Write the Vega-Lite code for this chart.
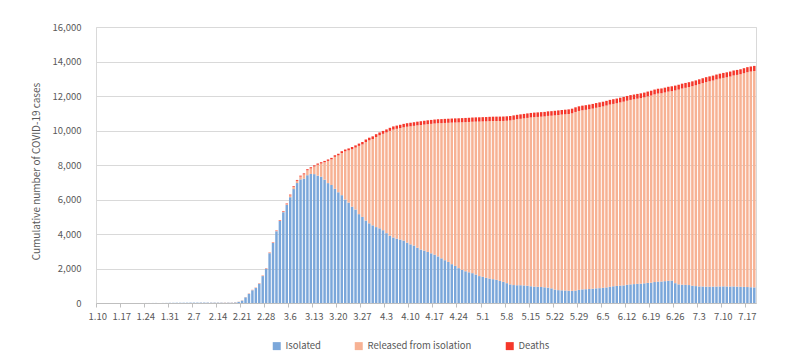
{
"$schema": "https://vega.github.io/schema/vega-lite/v6.json",
"width": 660, "height": 276,
"autosize": {"type": "none"},
"padding": {"left": 96, "top": 27, "right": 32, "bottom": 60},
"background": "white",
"config": {"font": "Noto Sans CJK KR", "view": {"stroke": "#D9D9D9"}},
"datasets": {"ranks": [{"series": "Isolated", "rank": 1}, {"series": "Released from isolation", "rank": 2}, {"series": "Deaths", "rank": 3}]},
"data": {"values": [
{"d":"1.10","Isolated":0,"Released from isolation":0,"Deaths":0},
{"d":"1.11","Isolated":0,"Released from isolation":0,"Deaths":0},
{"d":"1.12","Isolated":0,"Released from isolation":0,"Deaths":0},
{"d":"1.13","Isolated":0,"Released from isolation":0,"Deaths":0},
{"d":"1.14","Isolated":0,"Released from isolation":0,"Deaths":0},
{"d":"1.15","Isolated":0,"Released from isolation":0,"Deaths":0},
{"d":"1.16","Isolated":0,"Released from isolation":0,"Deaths":0},
{"d":"1.17","Isolated":0,"Released from isolation":0,"Deaths":0},
{"d":"1.18","Isolated":0,"Released from isolation":0,"Deaths":0},
{"d":"1.19","Isolated":0,"Released from isolation":0,"Deaths":0},
{"d":"1.20","Isolated":1,"Released from isolation":0,"Deaths":0},
{"d":"1.21","Isolated":1,"Released from isolation":0,"Deaths":0},
{"d":"1.22","Isolated":1,"Released from isolation":0,"Deaths":0},
{"d":"1.23","Isolated":1,"Released from isolation":0,"Deaths":0},
{"d":"1.24","Isolated":2,"Released from isolation":0,"Deaths":0},
{"d":"1.25","Isolated":2,"Released from isolation":0,"Deaths":0},
{"d":"1.26","Isolated":3,"Released from isolation":0,"Deaths":0},
{"d":"1.27","Isolated":4,"Released from isolation":0,"Deaths":0},
{"d":"1.28","Isolated":4,"Released from isolation":0,"Deaths":0},
{"d":"1.29","Isolated":4,"Released from isolation":0,"Deaths":0},
{"d":"1.30","Isolated":6,"Released from isolation":0,"Deaths":0},
{"d":"1.31","Isolated":11,"Released from isolation":0,"Deaths":0},
{"d":"2.1","Isolated":12,"Released from isolation":0,"Deaths":0},
{"d":"2.2","Isolated":15,"Released from isolation":0,"Deaths":0},
{"d":"2.3","Isolated":15,"Released from isolation":0,"Deaths":0},
{"d":"2.4","Isolated":16,"Released from isolation":0,"Deaths":0},
{"d":"2.5","Isolated":18,"Released from isolation":1,"Deaths":0},
{"d":"2.6","Isolated":21,"Released from isolation":2,"Deaths":0},
{"d":"2.7","Isolated":22,"Released from isolation":2,"Deaths":0},
{"d":"2.8","Isolated":22,"Released from isolation":2,"Deaths":0},
{"d":"2.9","Isolated":24,"Released from isolation":3,"Deaths":0},
{"d":"2.10","Isolated":24,"Released from isolation":3,"Deaths":0},
{"d":"2.11","Isolated":24,"Released from isolation":4,"Deaths":0},
{"d":"2.12","Isolated":21,"Released from isolation":7,"Deaths":0},
{"d":"2.13","Isolated":21,"Released from isolation":7,"Deaths":0},
{"d":"2.14","Isolated":21,"Released from isolation":7,"Deaths":0},
{"d":"2.15","Isolated":19,"Released from isolation":9,"Deaths":0},
{"d":"2.16","Isolated":19,"Released from isolation":10,"Deaths":0},
{"d":"2.17","Isolated":20,"Released from isolation":10,"Deaths":0},
{"d":"2.18","Isolated":19,"Released from isolation":12,"Deaths":0},
{"d":"2.19","Isolated":30,"Released from isolation":16,"Deaths":0},
{"d":"2.20","Isolated":65,"Released from isolation":16,"Deaths":1},
{"d":"2.21","Isolated":139,"Released from isolation":16,"Deaths":1},
{"d":"2.22","Isolated":328,"Released from isolation":16,"Deaths":2},
{"d":"2.23","Isolated":533,"Released from isolation":18,"Deaths":5},
{"d":"2.24","Isolated":738,"Released from isolation":18,"Deaths":7},
{"d":"2.25","Isolated":867,"Released from isolation":18,"Deaths":8},
{"d":"2.26","Isolated":1113,"Released from isolation":22,"Deaths":11},
{"d":"2.27","Isolated":1561,"Released from isolation":22,"Deaths":12},
{"d":"2.28","Isolated":1987,"Released from isolation":22,"Deaths":13},
{"d":"2.29","Isolated":2888,"Released from isolation":27,"Deaths":16},
{"d":"3.1","Isolated":3479,"Released from isolation":30,"Deaths":17},
{"d":"3.2","Isolated":4160,"Released from isolation":30,"Deaths":22},
{"d":"3.3","Isolated":4754,"Released from isolation":30,"Deaths":28},
{"d":"3.4","Isolated":5262,"Released from isolation":34,"Deaths":32},
{"d":"3.5","Isolated":5690,"Released from isolation":41,"Deaths":35},
{"d":"3.6","Isolated":6134,"Released from isolation":108,"Deaths":42},
{"d":"3.7","Isolated":6605,"Released from isolation":118,"Deaths":44},
{"d":"3.8","Isolated":6954,"Released from isolation":130,"Deaths":50},
{"d":"3.9","Isolated":7165,"Released from isolation":166,"Deaths":51},
{"d":"3.10","Isolated":7212,"Released from isolation":247,"Deaths":54},
{"d":"3.11","Isolated":7407,"Released from isolation":288,"Deaths":60},
{"d":"3.12","Isolated":7480,"Released from isolation":323,"Deaths":66},
{"d":"3.13","Isolated":7470,"Released from isolation":442,"Deaths":67},
{"d":"3.14","Isolated":7380,"Released from isolation":634,"Deaths":72},
{"d":"3.15","Isolated":7320,"Released from isolation":767,"Deaths":75},
{"d":"3.16","Isolated":7150,"Released from isolation":1011,"Deaths":75},
{"d":"3.17","Isolated":6950,"Released from isolation":1289,"Deaths":81},
{"d":"3.18","Isolated":6840,"Released from isolation":1489,"Deaths":84},
{"d":"3.19","Isolated":6620,"Released from isolation":1854,"Deaths":91},
{"d":"3.20","Isolated":6420,"Released from isolation":2138,"Deaths":94},
{"d":"3.21","Isolated":6250,"Released from isolation":2447,"Deaths":102},
{"d":"3.22","Isolated":6000,"Released from isolation":2793,"Deaths":104},
{"d":"3.23","Isolated":5820,"Released from isolation":3030,"Deaths":111},
{"d":"3.24","Isolated":5580,"Released from isolation":3337,"Deaths":120},
{"d":"3.25","Isolated":5420,"Released from isolation":3591,"Deaths":126},
{"d":"3.26","Isolated":5150,"Released from isolation":3960,"Deaths":131},
{"d":"3.27","Isolated":4990,"Released from isolation":4203,"Deaths":139},
{"d":"3.28","Isolated":4780,"Released from isolation":4554,"Deaths":144},
{"d":"3.29","Isolated":4620,"Released from isolation":4811,"Deaths":152},
{"d":"3.30","Isolated":4500,"Released from isolation":5003,"Deaths":158},
{"d":"3.31","Isolated":4400,"Released from isolation":5224,"Deaths":162},
{"d":"4.1","Isolated":4330,"Released from isolation":5392,"Deaths":165},
{"d":"4.2","Isolated":4220,"Released from isolation":5587,"Deaths":169},
{"d":"4.3","Isolated":4050,"Released from isolation":5838,"Deaths":174},
{"d":"4.4","Isolated":3900,"Released from isolation":6079,"Deaths":177},
{"d":"4.5","Isolated":3800,"Released from isolation":6254,"Deaths":183},
{"d":"4.6","Isolated":3730,"Released from isolation":6368,"Deaths":186},
{"d":"4.7","Isolated":3680,"Released from isolation":6459,"Deaths":192},
{"d":"4.8","Isolated":3620,"Released from isolation":6564,"Deaths":200},
{"d":"4.9","Isolated":3500,"Released from isolation":6719,"Deaths":204},
{"d":"4.10","Isolated":3400,"Released from isolation":6842,"Deaths":208},
{"d":"4.11","Isolated":3330,"Released from isolation":6939,"Deaths":211},
{"d":"4.12","Isolated":3200,"Released from isolation":7098,"Deaths":214},
{"d":"4.13","Isolated":3100,"Released from isolation":7220,"Deaths":217},
{"d":"4.14","Isolated":3040,"Released from isolation":7302,"Deaths":222},
{"d":"4.15","Isolated":2960,"Released from isolation":7406,"Deaths":225},
{"d":"4.16","Isolated":2880,"Released from isolation":7504,"Deaths":229},
{"d":"4.17","Isolated":2800,"Released from isolation":7605,"Deaths":230},
{"d":"4.18","Isolated":2700,"Released from isolation":7721,"Deaths":232},
{"d":"4.19","Isolated":2590,"Released from isolation":7837,"Deaths":234},
{"d":"4.20","Isolated":2480,"Released from isolation":7958,"Deaths":236},
{"d":"4.21","Isolated":2380,"Released from isolation":8066,"Deaths":237},
{"d":"4.22","Isolated":2250,"Released from isolation":8206,"Deaths":238},
{"d":"4.23","Isolated":2150,"Released from isolation":8312,"Deaths":240},
{"d":"4.24","Isolated":2020,"Released from isolation":8448,"Deaths":240},
{"d":"4.25","Isolated":1920,"Released from isolation":8556,"Deaths":242},
{"d":"4.26","Isolated":1840,"Released from isolation":8645,"Deaths":243},
{"d":"4.27","Isolated":1780,"Released from isolation":8715,"Deaths":243},
{"d":"4.28","Isolated":1730,"Released from isolation":8778,"Deaths":244},
{"d":"4.29","Isolated":1650,"Released from isolation":8865,"Deaths":246},
{"d":"4.30","Isolated":1560,"Released from isolation":8958,"Deaths":247},
{"d":"5.1","Isolated":1520,"Released from isolation":9006,"Deaths":248},
{"d":"5.2","Isolated":1460,"Released from isolation":9070,"Deaths":250},
{"d":"5.3","Isolated":1420,"Released from isolation":9123,"Deaths":250},
{"d":"5.4","Isolated":1380,"Released from isolation":9169,"Deaths":252},
{"d":"5.5","Isolated":1340,"Released from isolation":9210,"Deaths":254},
{"d":"5.6","Isolated":1280,"Released from isolation":9271,"Deaths":255},
{"d":"5.7","Isolated":1230,"Released from isolation":9324,"Deaths":256},
{"d":"5.8","Isolated":1150,"Released from isolation":9416,"Deaths":256},
{"d":"5.9","Isolated":1080,"Released from isolation":9504,"Deaths":256},
{"d":"5.10","Isolated":1040,"Released from isolation":9578,"Deaths":256},
{"d":"5.11","Isolated":1030,"Released from isolation":9623,"Deaths":256},
{"d":"5.12","Isolated":1030,"Released from isolation":9648,"Deaths":258},
{"d":"5.13","Isolated":1020,"Released from isolation":9683,"Deaths":259},
{"d":"5.14","Isolated":1000,"Released from isolation":9731,"Deaths":260},
{"d":"5.15","Isolated":970,"Released from isolation":9788,"Deaths":260},
{"d":"5.16","Isolated":950,"Released from isolation":9825,"Deaths":262},
{"d":"5.17","Isolated":940,"Released from isolation":9848,"Deaths":262},
{"d":"5.18","Isolated":930,"Released from isolation":9872,"Deaths":263},
{"d":"5.19","Isolated":910,"Released from isolation":9905,"Deaths":263},
{"d":"5.20","Isolated":890,"Released from isolation":9957,"Deaths":263},
{"d":"5.21","Isolated":850,"Released from isolation":10008,"Deaths":264},
{"d":"5.22","Isolated":780,"Released from isolation":10098,"Deaths":264},
{"d":"5.23","Isolated":745,"Released from isolation":10154,"Deaths":266},
{"d":"5.24","Isolated":735,"Released from isolation":10189,"Deaths":266},
{"d":"5.25","Isolated":725,"Released from isolation":10214,"Deaths":267},
{"d":"5.26","Isolated":710,"Released from isolation":10246,"Deaths":269},
{"d":"5.27","Isolated":705,"Released from isolation":10291,"Deaths":269},
{"d":"5.28","Isolated":720,"Released from isolation":10355,"Deaths":269},
{"d":"5.29","Isolated":760,"Released from isolation":10373,"Deaths":269},
{"d":"5.30","Isolated":790,"Released from isolation":10381,"Deaths":270},
{"d":"5.31","Isolated":800,"Released from isolation":10398,"Deaths":270},
{"d":"6.1","Isolated":810,"Released from isolation":10422,"Deaths":271},
{"d":"6.2","Isolated":830,"Released from isolation":10439,"Deaths":272},
{"d":"6.3","Isolated":850,"Released from isolation":10467,"Deaths":273},
{"d":"6.4","Isolated":860,"Released from isolation":10496,"Deaths":273},
{"d":"6.5","Isolated":880,"Released from isolation":10515,"Deaths":273},
{"d":"6.6","Isolated":905,"Released from isolation":10541,"Deaths":273},
{"d":"6.7","Isolated":940,"Released from isolation":10563,"Deaths":273},
{"d":"6.8","Isolated":970,"Released from isolation":10571,"Deaths":273},
{"d":"6.9","Isolated":990,"Released from isolation":10588,"Deaths":274},
{"d":"6.10","Isolated":1010,"Released from isolation":10616,"Deaths":276},
{"d":"6.11","Isolated":1020,"Released from isolation":10651,"Deaths":276},
{"d":"6.12","Isolated":1055,"Released from isolation":10671,"Deaths":277},
{"d":"6.13","Isolated":1080,"Released from isolation":10694,"Deaths":277},
{"d":"6.14","Isolated":1095,"Released from isolation":10713,"Deaths":277},
{"d":"6.15","Isolated":1110,"Released from isolation":10734,"Deaths":277},
{"d":"6.16","Isolated":1120,"Released from isolation":10757,"Deaths":278},
{"d":"6.17","Isolated":1140,"Released from isolation":10779,"Deaths":279},
{"d":"6.18","Isolated":1165,"Released from isolation":10813,"Deaths":279},
{"d":"6.19","Isolated":1180,"Released from isolation":10846,"Deaths":280},
{"d":"6.20","Isolated":1215,"Released from isolation":10878,"Deaths":280},
{"d":"6.21","Isolated":1240,"Released from isolation":10901,"Deaths":280},
{"d":"6.22","Isolated":1245,"Released from isolation":10913,"Deaths":280},
{"d":"6.23","Isolated":1265,"Released from isolation":10938,"Deaths":281},
{"d":"6.24","Isolated":1290,"Released from isolation":10964,"Deaths":281},
{"d":"6.25","Isolated":1300,"Released from isolation":10981,"Deaths":282},
{"d":"6.26","Isolated":1150,"Released from isolation":11170,"Deaths":282},
{"d":"6.27","Isolated":1080,"Released from isolation":11291,"Deaths":282},
{"d":"6.28","Isolated":1065,"Released from isolation":11368,"Deaths":282},
{"d":"6.29","Isolated":1050,"Released from isolation":11425,"Deaths":282},
{"d":"6.30","Isolated":1040,"Released from isolation":11478,"Deaths":282},
{"d":"7.1","Isolated":1000,"Released from isolation":11568,"Deaths":282},
{"d":"7.2","Isolated":980,"Released from isolation":11642,"Deaths":282},
{"d":"7.3","Isolated":960,"Released from isolation":11724,"Deaths":283},
{"d":"7.4","Isolated":955,"Released from isolation":11791,"Deaths":284},
{"d":"7.5","Isolated":950,"Released from isolation":11856,"Deaths":285},
{"d":"7.6","Isolated":945,"Released from isolation":11907,"Deaths":285},
{"d":"7.7","Isolated":950,"Released from isolation":11946,"Deaths":285},
{"d":"7.8","Isolated":955,"Released from isolation":12004,"Deaths":285},
{"d":"7.9","Isolated":960,"Released from isolation":12046,"Deaths":287},
{"d":"7.10","Isolated":965,"Released from isolation":12085,"Deaths":288},
{"d":"7.11","Isolated":960,"Released from isolation":12124,"Deaths":289},
{"d":"7.12","Isolated":955,"Released from isolation":12173,"Deaths":289},
{"d":"7.13","Isolated":960,"Released from isolation":12230,"Deaths":289},
{"d":"7.14","Isolated":950,"Released from isolation":12273,"Deaths":289},
{"d":"7.15","Isolated":940,"Released from isolation":12322,"Deaths":289},
{"d":"7.16","Isolated":935,"Released from isolation":12386,"Deaths":291},
{"d":"7.17","Isolated":925,"Released from isolation":12454,"Deaths":293},
{"d":"7.18","Isolated":915,"Released from isolation":12502,"Deaths":294},
{"d":"7.19","Isolated":905,"Released from isolation":12545,"Deaths":295}
]},
"transform": [
  {"fold": ["Isolated", "Released from isolation", "Deaths"], "as": ["series", "value"]},
  {"lookup": "series", "from": {"data": {"name": "ranks"}, "key": "series", "fields": ["rank"]}}
],
"mark": {"type": "bar", "width": {"band": 0.72}},
"encoding": {
  "x": {"field": "d", "type": "ordinal", "sort": null,
    "scale": {"paddingInner": 0, "paddingOuter": 0},
    "axis": {"values": ["1.10","1.17","1.24","1.31","2.7","2.14","2.21","2.28","3.6","3.13","3.20","3.27","4.3","4.10","4.17","4.24","5.1","5.8","5.15","5.22","5.29","6.5","6.12","6.19","6.26","7.3","7.10","7.17"],
      "bandPosition": 0, "labelAngle": 0, "title": null, "grid": false,
      "domainColor": "#BFBFBF", "tickColor": "#BFBFBF", "tickSize": 4,
      "labelFontSize": 9.5, "labelColor": "#595959", "labelPadding": 4}},
  "y": {"field": "value", "type": "quantitative", "stack": "zero",
    "scale": {"domain": [0, 16000]},
    "axis": {"title": "Cumulative number of COVID-19 cases", "values": [0,2000,4000,6000,8000,10000,12000,14000,16000],
      "format": ",d", "domain": false, "ticks": false, "gridColor": "#D9D9D9",
      "labelPadding": 15, "labelFontSize": 9.5, "labelColor": "#595959",
      "titleFontSize": 10, "titleFontWeight": "normal", "titleColor": "#595959", "titlePadding": 10, "titleY": 144}},
  "color": {"field": "series", "type": "nominal",
    "scale": {"domain": ["Isolated", "Released from isolation", "Deaths"], "range": ["#7BA7DA", "#F7B294", "#F5372A"]},
    "legend": {"orient": "none", "legendX": 176, "legendY": 314, "direction": "horizontal", "title": null,
      "symbolType": "square", "symbolSize": 64, "symbolStrokeWidth": 0,
      "labelFontSize": 9.5, "labelColor": "#595959", "columnPadding": 33, "labelOffset": 4}},
  "order": {"field": "rank", "type": "quantitative", "sort": "ascending"}
}
}
